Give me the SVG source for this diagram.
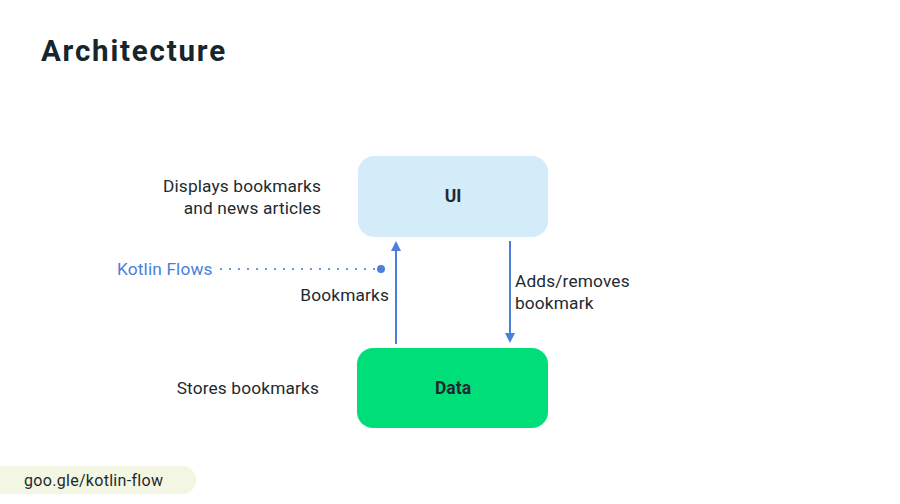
<svg xmlns="http://www.w3.org/2000/svg" width="900" height="504" viewBox="0 0 900 504">
<style>
text{font-family:"Roboto","Liberation Sans",sans-serif;fill:#1e2a30}
.lbl{font-size:17.3px;letter-spacing:0.15px}
.node{font-size:17.5px;font-weight:bold;text-anchor:middle}
.conn{stroke:#4a7fdc;stroke-width:2;fill:none}
</style>
<defs>
<marker id="ah" markerWidth="10" markerHeight="10" refX="5" refY="5" orient="auto" markerUnits="userSpaceOnUse">
<path d="M0,0 L10,5 L0,10 z" fill="#4a7fdc"/>
</marker>
</defs>
<rect width="900" height="504" fill="#ffffff"/>
<text x="41" y="61" style="font-size:29.5px;font-weight:bold;letter-spacing:1.8px;fill:#17252d">Architecture</text>
<g id="ui">
<rect x="358" y="156" width="190" height="81" rx="16" fill="#d4ebfa"/>
<text class="node" x="453" y="202">UI</text>
</g>
<g id="data">
<rect x="357" y="348" width="191" height="80" rx="16" fill="#00de7a"/>
<text class="node" x="453" y="394">Data</text>
</g>
<g id="connectors">
<line class="conn" x1="396" y1="344" x2="396" y2="246" marker-end="url(#ah)"/>
<line class="conn" x1="510" y1="241" x2="510" y2="338" marker-end="url(#ah)"/>
<line x1="221" y1="269" x2="376" y2="269" stroke="#4a7fdc" stroke-width="2.2" stroke-linecap="round" stroke-dasharray="0 9"/>
<circle cx="381" cy="269" r="4" fill="#4a7fdc"/>
</g>
<g id="labels">
<text class="lbl" x="321" y="192" text-anchor="end">Displays bookmarks</text>
<text class="lbl" x="321" y="214" text-anchor="end">and news articles</text>
<text class="lbl" x="117" y="275" style="fill:#4a7fdc">Kotlin Flows</text>
<text class="lbl" x="389" y="301" text-anchor="end">Bookmarks</text>
<text class="lbl" x="515" y="287">Adds/removes</text>
<text class="lbl" x="515" y="309">bookmark</text>
<text class="lbl" x="319" y="394" text-anchor="end">Stores bookmarks</text>
</g>
<g id="link">
<rect x="-20" y="466" width="216" height="28" rx="14" fill="#f3f6e2"/>
<text x="24" y="486" style="font-size:16px;letter-spacing:0.3px">goo.gle/kotlin-flow</text>
</g>
</svg>
